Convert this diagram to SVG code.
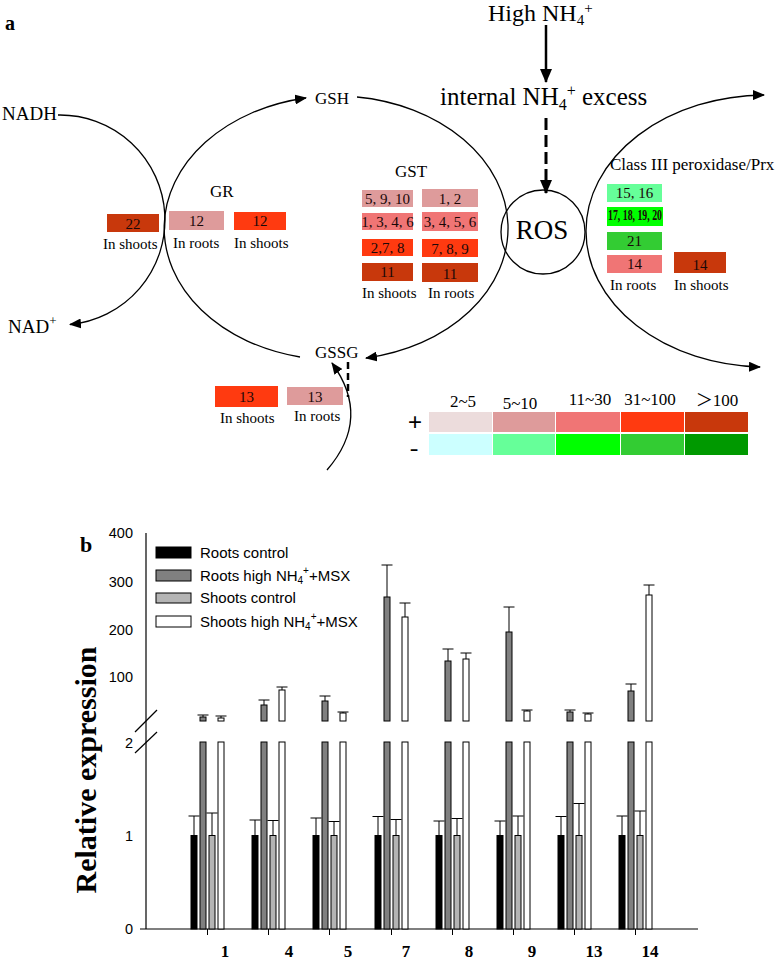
<svg xmlns="http://www.w3.org/2000/svg" width="775" height="962" viewBox="0 0 775 962">
<style>
.sf{font-family:"Liberation Serif","Times New Roman",serif;fill:#000}
.ss{font-family:"Liberation Sans",Arial,sans-serif;fill:#000}
.bx{font-family:"Liberation Serif","Times New Roman",serif;font-size:15px;fill:#1a0808;text-anchor:middle}
.lb{font-family:"Liberation Serif","Times New Roman",serif;font-size:15px;fill:#000}
.cv{fill:none;stroke:#000;stroke-width:1.3}
.c1{fill:#ecdcdc}.c2{fill:#de9b9b}.c3{fill:#f07575}.c4{fill:#ff3a10}.c5{fill:#c8380c}
.g1{fill:#ccffff}.g2{fill:#66ff99}.g3{fill:#00ff00}.g4{fill:#33cc33}.g5{fill:#009900}
.bk{fill:#000;stroke:#000;stroke-width:1}
.dg{fill:#808080;stroke:#000;stroke-width:1}
.lg{fill:#b4b4b4;stroke:#000;stroke-width:1}
.wh{fill:#fff;stroke:#000;stroke-width:1}
.eb{fill:none;stroke:#000;stroke-width:1}
.ax{fill:none;stroke:#000;stroke-width:1.2}
.tk{font-family:"Liberation Sans",Arial,sans-serif;font-size:14.5px;text-anchor:end}
.xl{font-family:"Liberation Serif","Times New Roman",serif;font-size:17px;font-weight:bold;text-anchor:middle}
</style>
<defs>
<marker id="ah" markerWidth="12" markerHeight="10" refX="11" refY="5" orient="auto" markerUnits="userSpaceOnUse"><path d="M0,0 L12,5 L0,10 z" fill="#000"/></marker>
<marker id="ahb" markerWidth="14" markerHeight="12" refX="13" refY="6" orient="auto" markerUnits="userSpaceOnUse"><path d="M0,0 L14,6 L0,12 z" fill="#000"/></marker>
</defs>
<rect width="775" height="962" fill="#fff"/>

<!-- Panel a -->
<text class="sf" x="5" y="30" font-size="20" font-weight="bold">a</text>

<g id="connectors">
<path class="cv" d="M 58 115 A 105 105 0 0 1 70 324.5" marker-end="url(#ah)"/>
<path class="cv" d="M 300 357 A 172 132 0 0 1 306 98" marker-end="url(#ah)"/>
<path class="cv" d="M 357 97 A 172 132 0 0 1 366 358" marker-end="url(#ah)"/>
<path class="cv" d="M 586 231 A 180 136 0 0 1 764 95" marker-end="url(#ah)"/>
<path class="cv" d="M 586 231 A 180 136 0 0 0 760 367" marker-end="url(#ah)"/>
<line x1="546" y1="25" x2="546" y2="82" stroke="#000" stroke-width="2.5" marker-end="url(#ahb)"/>
<line x1="546" y1="118" x2="546" y2="193" stroke="#000" stroke-width="3" stroke-dasharray="12 5" marker-end="url(#ahb)"/>
<line x1="348" y1="362" x2="348" y2="397" stroke="#000" stroke-width="2.5" stroke-dasharray="7 4"/>
<path class="cv" d="M 327 470 Q 372 418 332 363" marker-end="url(#ah)"/>
</g>

<g id="high-nh4">
<text class="sf" x="488" y="21" font-size="24">High NH<tspan font-size="15" dy="4">4</tspan><tspan font-size="15" dy="-12">+</tspan></text>
</g>
<g id="internal-nh4">
<text class="sf" x="440" y="105" font-size="25">internal NH<tspan font-size="16" dy="5">4</tspan><tspan font-size="16" dy="-14">+</tspan><tspan dy="9"> excess</tspan></text>
</g>
<g id="ros">
<circle cx="543" cy="232" r="42" fill="none" stroke="#000" stroke-width="1.3"/>
<text class="sf" x="542" y="239" font-size="27" text-anchor="middle">ROS</text>
</g>
<g id="nadh"><text class="sf" x="2" y="120" font-size="19">NADH</text></g>
<g id="nadplus"><text class="sf" x="8" y="333" font-size="19">NAD<tspan font-size="13" dy="-8">+</tspan></text></g>
<g id="gsh"><text class="sf" x="315" y="104" font-size="17">GSH</text></g>
<g id="gssg"><text class="sf" x="315" y="358" font-size="17">GSSG</text></g>

<g id="gr">
<text class="sf" x="210" y="197" font-size="17">GR</text>
<rect class="c5" x="107" y="214" width="52" height="18"/><text class="bx" x="133" y="229">22</text>
<rect class="c2" x="169" y="211" width="55" height="19"/><text class="bx" x="196.5" y="226">12</text>
<rect class="c4" x="234" y="212" width="52" height="18"/><text class="bx" x="260" y="226">12</text>
<text class="lb" x="103" y="249">In shoots</text>
<text class="lb" x="173" y="248">In roots</text>
<text class="lb" x="234" y="248">In shoots</text>
</g>

<g id="gst">
<text class="sf" x="395" y="177" font-size="17">GST</text>
<rect class="c2" x="362" y="190" width="51" height="17"/><text class="bx" x="387.5" y="204">5, 9, 10</text>
<rect class="c3" x="362" y="213" width="51" height="17"/><text class="bx" x="387.5" y="227">1, 3, 4, 6</text>
<rect class="c4" x="362" y="239" width="51" height="17"/><text class="bx" x="387.5" y="253">2,7, 8</text>
<rect class="c5" x="362" y="263" width="51" height="18"/><text class="bx" x="387.5" y="277">11</text>
<rect class="c2" x="422" y="189" width="56" height="18"/><text class="bx" x="450" y="204">1, 2</text>
<rect class="c3" x="422" y="212" width="56" height="19"/><text class="bx" x="450" y="227">3, 4, 5, 6</text>
<rect class="c4" x="422" y="239" width="56" height="18"/><text class="bx" x="450" y="254">7, 8, 9</text>
<rect class="c5" x="422" y="263" width="56" height="19"/><text class="bx" x="450" y="279">11</text>
<text class="lb" x="362" y="298">In shoots</text>
<text class="lb" x="428" y="298">In roots</text>
</g>

<g id="prx">
<text class="sf" x="610" y="170" font-size="17">Class  III peroxidase/Prx</text>
<rect class="g2" x="607" y="184" width="55" height="18"/><text class="bx" x="634.5" y="198">15, 16</text>
<rect class="g3" x="607" y="207" width="56" height="19"/><text class="bx" x="635" y="220" font-size="10.5" font-weight="bold" textLength="54" lengthAdjust="spacingAndGlyphs">17, 18, 19, 20</text>
<rect class="g4" x="607" y="232" width="55" height="18"/><text class="bx" x="634.5" y="246">21</text>
<rect class="c3" x="607" y="255" width="55" height="18"/><text class="bx" x="634.5" y="269">14</text>
<rect class="c5" x="674" y="252" width="52" height="21"/><text class="bx" x="700" y="270">14</text>
<text class="lb" x="610" y="290">In roots</text>
<text class="lb" x="674" y="290">In shoots</text>
</g>

<g id="gr-13">
<rect class="c4" x="215" y="386" width="63" height="21"/><text class="bx" x="246.5" y="402">13</text>
<rect class="c2" x="287" y="387" width="56" height="18"/><text class="bx" x="315" y="402">13</text>
<text class="lb" x="220" y="423">In shoots</text>
<text class="lb" x="294" y="421">In roots</text>
</g>

<g id="color-legend">
<text class="ss" x="415" y="430" font-size="24" text-anchor="middle">+</text>
<text class="ss" x="414" y="456" font-size="22" text-anchor="middle" transform="translate(414,0) scale(1.25,1) translate(-414,0)">-</text>
<g class="sf" font-size="17" text-anchor="middle">
<text x="463" y="407">2~5</text>
<text x="520" y="409">5~10</text>
<text x="590" y="405">11~30</text>
<text x="650" y="405">31~100</text>
<text x="717" y="406" font-family="'Liberation Serif','Noto Sans CJK SC',serif">＞100</text>
</g>
<rect class="c1" x="429" y="412" width="63" height="20"/>
<rect class="c2" x="493" y="412" width="62" height="20"/>
<rect class="c3" x="556" y="412" width="64" height="20"/>
<rect class="c4" x="621" y="412" width="63" height="20"/>
<rect class="c5" x="685" y="412" width="63" height="20"/>
<rect class="g1" x="429" y="434" width="63" height="21"/>
<rect class="g2" x="493" y="434" width="62" height="21"/>
<rect class="g3" x="556" y="434" width="64" height="21"/>
<rect class="g4" x="621" y="434" width="63" height="21"/>
<rect class="g5" x="685" y="434" width="63" height="21"/>
</g>

<!-- Panel b -->
<g id="chart">
<text class="sf" x="80" y="552" font-size="22" font-weight="bold">b</text>
<text class="sf" transform="translate(96,770) rotate(-90)" font-size="30" font-weight="bold" text-anchor="middle">Relative expression</text>
<line class="ax" x1="146" y1="533" x2="146" y2="929"/>
<line class="ax" x1="140" y1="929" x2="698" y2="929"/>
<line class="ax" x1="135" y1="732" x2="157" y2="710"/>
<line class="ax" x1="135" y1="753" x2="157" y2="732"/>
<text class="tk" x="133" y="538">400</text>
<text class="tk" x="133" y="587">300</text>
<text class="tk" x="133" y="635">200</text>
<text class="tk" x="133" y="682">100</text>
<text class="tk" x="133" y="748">2</text>
<text class="tk" x="133" y="841">1</text>
<text class="tk" x="133" y="934">0</text>

<g id="chart-legend">
<rect class="bk" x="156" y="547" width="35" height="11"/>
<rect class="dg" x="156" y="570" width="35" height="11"/>
<rect class="lg" x="156" y="593" width="35" height="10"/>
<rect class="wh" x="156" y="616" width="35" height="11"/>
<text class="ss" x="200" y="558" font-size="15">Roots control</text>
<text class="ss" x="200" y="581" font-size="15">Roots high NH<tspan font-size="10" dy="3">4</tspan><tspan font-size="10" dy="-10">+</tspan><tspan dy="7">+MSX</tspan></text>
<text class="ss" x="200" y="603" font-size="15">Shoots control</text>
<text class="ss" x="200" y="627" font-size="15">Shoots high NH<tspan font-size="10" dy="3">4</tspan><tspan font-size="10" dy="-10">+</tspan><tspan dy="7">+MSX</tspan></text>
</g>

<g id="bars-lower">
<rect class="bk" x="191" y="835.5" width="6" height="93.5"/><rect class="dg" x="200" y="742" width="6" height="187"/><rect class="lg" x="209" y="835.5" width="6" height="93.5"/><rect class="wh" x="218" y="742" width="6" height="187"/>
<path class="eb" d="M194 835.5V816M188.5 816H199.5M212 835.5V813M206.5 813H217.5"/>
<rect class="bk" x="252" y="835.5" width="6" height="93.5"/><rect class="dg" x="261" y="742" width="6" height="187"/><rect class="lg" x="270" y="835.5" width="6" height="93.5"/><rect class="wh" x="279" y="742" width="6" height="187"/>
<path class="eb" d="M255 835.5V820M249.5 820H260.5M273 835.5V820.5M267.5 820.5H278.5"/>
<rect class="bk" x="313" y="835.5" width="6" height="93.5"/><rect class="dg" x="322" y="742" width="6" height="187"/><rect class="lg" x="331" y="835.5" width="6" height="93.5"/><rect class="wh" x="340" y="742" width="6" height="187"/>
<path class="eb" d="M316 835.5V818M310.5 818H321.5M334 835.5V821.5M328.5 821.5H339.5"/>
<rect class="bk" x="375" y="835.5" width="6" height="93.5"/><rect class="dg" x="384" y="742" width="6" height="187"/><rect class="lg" x="393" y="835.5" width="6" height="93.5"/><rect class="wh" x="402" y="742" width="6" height="187"/>
<path class="eb" d="M378 835.5V816.5M372.5 816.5H383.5M396 835.5V819.5M390.5 819.5H401.5"/>
<rect class="bk" x="436" y="835.5" width="6" height="93.5"/><rect class="dg" x="445" y="742" width="6" height="187"/><rect class="lg" x="454" y="835.5" width="6" height="93.5"/><rect class="wh" x="463" y="742" width="6" height="187"/>
<path class="eb" d="M439 835.5V821M433.5 821H444.5M457 835.5V818.5M451.5 818.5H462.5"/>
<rect class="bk" x="497" y="835.5" width="6" height="93.5"/><rect class="dg" x="506" y="742" width="6" height="187"/><rect class="lg" x="515" y="835.5" width="6" height="93.5"/><rect class="wh" x="524" y="742" width="6" height="187"/>
<path class="eb" d="M500 835.5V821M494.5 821H505.5M518 835.5V816M512.5 816H523.5"/>
<rect class="bk" x="558" y="835.5" width="6" height="93.5"/><rect class="dg" x="567" y="742" width="6" height="187"/><rect class="lg" x="576" y="835.5" width="6" height="93.5"/><rect class="wh" x="585" y="742" width="6" height="187"/>
<path class="eb" d="M561 835.5V816.5M555.5 816.5H566.5M579 835.5V803.5M573.5 803.5H584.5"/>
<rect class="bk" x="619" y="835.5" width="6" height="93.5"/><rect class="dg" x="628" y="742" width="6" height="187"/><rect class="lg" x="637" y="835.5" width="6" height="93.5"/><rect class="wh" x="646" y="742" width="6" height="187"/>
<path class="eb" d="M622 835.5V816M616.5 816H627.5M640 835.5V811M634.5 811H645.5"/>
</g>

<g id="bars-upper">
<rect class="dg" x="200" y="717" width="6" height="4"/><rect class="wh" x="218" y="718" width="6" height="3"/>
<path class="eb" d="M203 717V715M197.5 715H208.5M221 718V716M215.5 716H226.5"/>
<rect class="dg" x="261" y="705" width="6" height="16"/><rect class="wh" x="279" y="690" width="6" height="31"/>
<path class="eb" d="M264 705V700M258.5 700H269.5M282 690V687M276.5 687H287.5"/>
<rect class="dg" x="322" y="701" width="6" height="20"/><rect class="wh" x="340" y="713" width="6" height="8"/>
<path class="eb" d="M325 701V696M319.5 696H330.5M343 713V712M337.5 712H348.5"/>
<rect class="dg" x="384" y="597" width="6" height="124"/><rect class="wh" x="402" y="617" width="6" height="104"/>
<path class="eb" d="M387 597V565M381.5 565H392.5M405 617V603M399.5 603H410.5"/>
<rect class="dg" x="445" y="661" width="6" height="60"/><rect class="wh" x="463" y="659" width="6" height="62"/>
<path class="eb" d="M448 661V649M442.5 649H453.5M466 659V653M460.5 653H471.5"/>
<rect class="dg" x="506" y="632" width="6" height="89"/><rect class="wh" x="524" y="711" width="6" height="10"/>
<path class="eb" d="M509 632V607M503.5 607H514.5M527 711V710M521.5 710H532.5"/>
<rect class="dg" x="567" y="712" width="6" height="9"/><rect class="wh" x="585" y="714" width="6" height="7"/>
<path class="eb" d="M570 712V710M564.5 710H575.5M588 714V713M582.5 713H593.5"/>
<rect class="dg" x="628" y="691" width="6" height="30"/><rect class="wh" x="646" y="595" width="6" height="126"/>
<path class="eb" d="M631 691V684M625.5 684H636.5M649 595V585M643.5 585H654.5"/>
</g>

<g id="x-axis">
<path class="eb" d="M207.5 929V935M268.5 929V935M329.5 929V935M391.5 929V935M452.5 929V935M513.5 929V935M574.5 929V935M635.5 929V935"/>
<text class="xl" x="225" y="957">1</text>
<text class="xl" x="289" y="957">4</text>
<text class="xl" x="348" y="957">5</text>
<text class="xl" x="406" y="957">7</text>
<text class="xl" x="469" y="957">8</text>
<text class="xl" x="532" y="957">9</text>
<text class="xl" x="594" y="957">13</text>
<text class="xl" x="650" y="957">14</text>
</g>
</g>
</svg>
